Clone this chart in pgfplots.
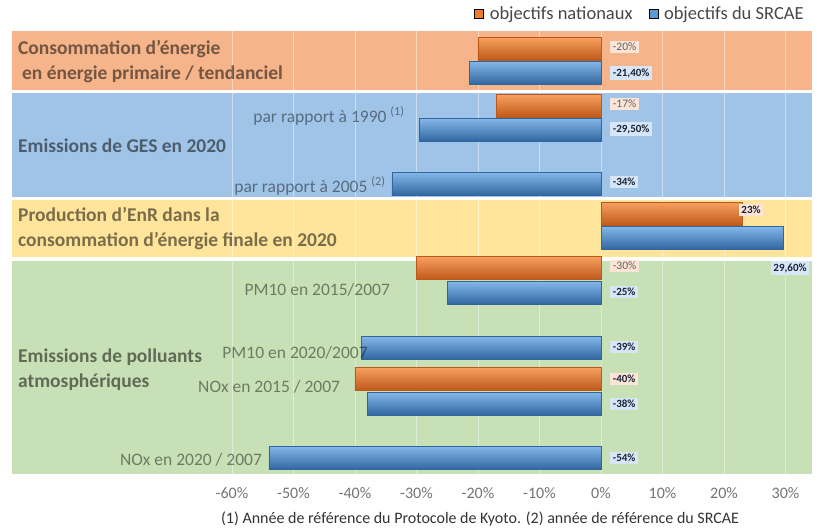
\documentclass[border=0pt]{standalone}
\usepackage{pgfplots}
\pgfplotsset{compat=1.18}
\usepackage{fontspec}
\setmainfont{Carlito}
\definecolor{OrBar}{RGB}{237,125,49}
\definecolor{OrHi}{RGB}{247,160,95}
\definecolor{OrLo}{RGB}{190,88,26}
\definecolor{BlBar}{RGB}{91,155,213}
\definecolor{BlHi}{RGB}{132,183,232}
\definecolor{BlLo}{RGB}{48,102,160}
\definecolor{BandOr}{RGB}{245,180,138}
\definecolor{BandBl}{RGB}{160,196,231}
\definecolor{BandYe}{RGB}{255,228,155}
\definecolor{BandGr}{RGB}{200,224,182}
\definecolor{LabOr}{RGB}{252,229,214}
\definecolor{LabBl}{RGB}{215,230,246}
\definecolor{LabTxt}{RGB}{25,35,55}
\pgfplotsset{
  obar/.style={xbar, bar width=23, bar shift=0pt, draw=OrLo, line width=0.3pt, top color=OrHi, middle color=OrBar, bottom color=OrLo, forget plot},
  bbar/.style={xbar, bar width=23, bar shift=0pt, draw=BlLo, line width=0.3pt, top color=BlHi, middle color=BlBar, bottom color=BlLo, forget plot},
}
\begin{document}
\begin{tikzpicture}
\begin{axis}[
  set layers=standard,
  at={(12pt,57pt)}, anchor=south west,
  scale only axis, width=800pt, height=444pt,
  xmin=-95.77, xmax=34.31, ymin=30, ymax=474, y dir=reverse,
  axis line style={draw=none}, ytick=\empty,
  xtick={-60,-50,...,30}, major tick length=0pt,
  xticklabel={\pgfmathprintnumber[assume math mode=true]{\tick}\%},
  xticklabel style={font=\fontsize{16}{18}\selectfont, text=black!55, yshift=-10pt},
  xmajorgrids, grid style={white, opacity=0.45, line width=0.7pt},
  clip=false,
  legend columns=2,
  legend image code/.code={\fill[#1] (0pt,-4.5pt) rectangle (9pt,4.5pt);},
  legend style={draw=none, fill=none, at={(0.785,1)}, anchor=center, yshift=16pt,
    font=\fontsize{18.5}{20}\selectfont, text=black!72,
    /tikz/every odd column/.append style={column sep=4pt},
    /tikz/every even column/.append style={column sep=14pt}},
]
\begin{pgfonlayer}{axis background}
\fill[BandOr] (axis cs:-95.77,31) rectangle (axis cs:34.31,90);
\fill[BandBl] (axis cs:-95.77,93) rectangle (axis cs:34.31,197);
\fill[BandYe] (axis cs:-95.77,200) rectangle (axis cs:34.31,257);
\fill[BandGr] (axis cs:-95.77,261) rectangle (axis cs:34.31,474);
\end{pgfonlayer}
\addlegendimage{fill=OrBar}
\addlegendentry{objectifs nationaux}
\addlegendimage{fill=BlBar}
\addlegendentry{objectifs du SRCAE}
% objectifs nationaux (one plot per bar, so that each bar has its own shading)
\addplot[obar] coordinates {(-20,49)};
\addplot[obar] coordinates {(-17,106)};
\addplot[obar] coordinates {(23,214)};
\addplot[obar] coordinates {(-30,268)};
\addplot[obar] coordinates {(-40,379)};
% objectifs du SRCAE
\addplot[bbar] coordinates {(-21.4,73)};
\addplot[bbar] coordinates {(-29.5,130)};
\addplot[bbar] coordinates {(-34,184)};
\addplot[bbar] coordinates {(29.6,238)};
\addplot[bbar] coordinates {(-25,293)};
\addplot[bbar] coordinates {(-39,348)};
\addplot[bbar] coordinates {(-38,404)};
\addplot[bbar] coordinates {(-54,458)};
% data labels
\addplot[draw=none, mark=none, forget plot, nodes near coords, point meta=explicit symbolic,
  nodes near coords style={anchor=west, inner sep=2.5pt, fill=LabOr, text=black!62, font=\fontsize{11.5}{12}\selectfont}]
  coordinates {(1.5,47)[-20\%] (1.5,104)[-17\%] (1.5,266)[-30\%]};
\addplot[draw=none, mark=none, forget plot, nodes near coords, point meta=explicit symbolic,
  nodes near coords style={anchor=west, inner sep=2.5pt, fill=LabOr, text=LabTxt, font=\bfseries\fontsize{11}{12}\selectfont}]
  coordinates {(1.5,379)[-40\%] (22.4,210)[23\%]};
\addplot[draw=none, mark=none, forget plot, nodes near coords, point meta=explicit symbolic,
  nodes near coords style={anchor=west, inner sep=2.5pt, fill=LabBl, text=LabTxt, font=\bfseries\fontsize{11}{12}\selectfont}]
  coordinates {(1.5,73)[-21,40\%] (1.5,129)[-29,50\%] (1.5,182)[-34\%] (27.6,268)[29,60\%]
               (1.5,292)[-25\%] (1.5,347)[-39\%] (1.5,404)[-38\%] (1.5,458)[-54\%]};
% section headings
\tikzset{head/.style={anchor=west, align=left, font=\bfseries\fontsize{19.5}{25}\selectfont, text=black, text opacity=0.52, inner sep=0pt},
         sub/.style={anchor=east, font=\fontsize{17.5}{20}\selectfont, text=black, text opacity=0.45, inner sep=0pt}}
\node[head] at (axis cs:-94.8,62) {Consommation d’énergie\\\hspace{4pt}en énergie primaire / tendanciel};
\node[head] at (axis cs:-94.8,146) {Emissions de GES en 2020};
\node[head] at (axis cs:-94.8,229) {Production d’EnR dans la\\consommation d’énergie finale en 2020};
\node[head] at (axis cs:-94.8,370) {Emissions de polluants\\atmosphériques};
\node[sub] at (axis cs:-31.9,116) {par rapport à 1990 \textsuperscript{(1)}};
\node[sub] at (axis cs:-35.0,186) {par rapport à 2005 \textsuperscript{(2)}};
\node[sub] at (axis cs:-34.3,290) {PM10 en 2015/2007};
\node[sub] at (axis cs:-37.9,353) {PM10 en 2020/2007};
\node[sub] at (axis cs:-42.4,387) {NOx en 2015 / 2007};
\node[sub] at (axis cs:-55.1,460) {NOx en 2020 / 2007};
\end{axis}
\node[font=\fontsize{16}{17}\selectfont, text=black!80] at (480pt,12pt) {(1) Année de référence du Protocole de Kyoto. (2) année de référence du SRCAE};
\pgfresetboundingbox
\path[use as bounding box] (0,0) rectangle (818pt,531pt);
\end{tikzpicture}
\end{document}
